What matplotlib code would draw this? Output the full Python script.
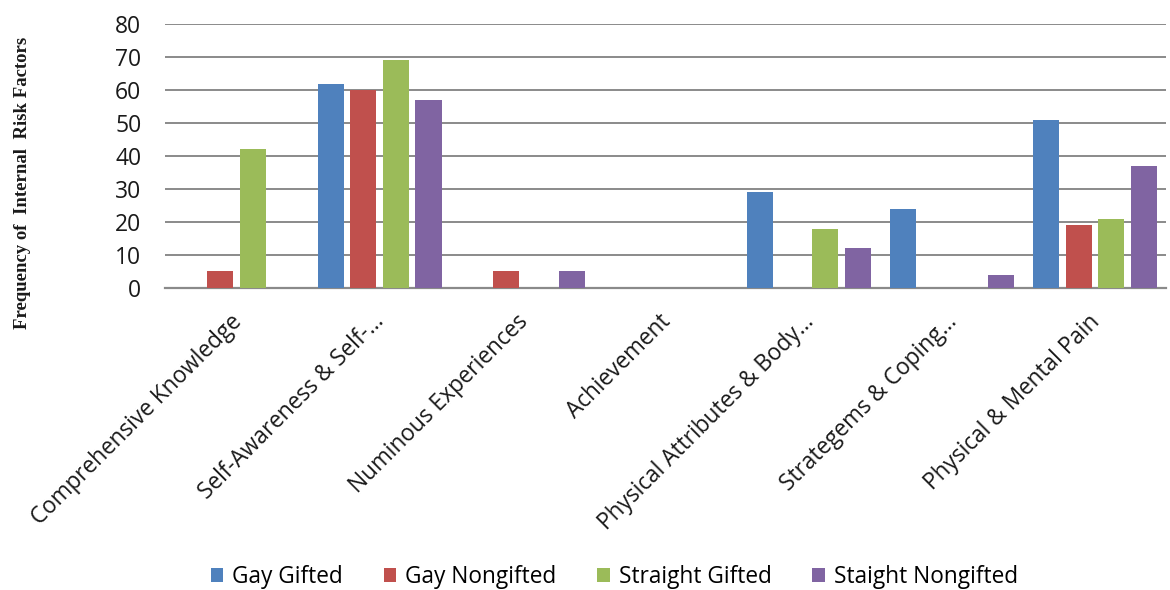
import matplotlib
matplotlib.use("Agg")
import matplotlib.pyplot as plt
import matplotlib.transforms as mtransforms
import numpy as np

categories = ["Comprehensive Knowledge", "Self-Awareness & Self-...", "Numinous Experiences",
              "Achievement", "Physical Attributes & Body...", "Strategems & Coping...",
              "Physical & Mental Pain"]
series_names = ["Gay Gifted", "Gay Nongifted", "Straight Gifted", "Staight Nongifted"]
gay_gifted = [0, 62, 0, 0, 29, 24, 51]
gay_nongifted = [5, 60, 5, 0, 0, 0, 19]
straight_gifted = [42, 69, 0, 0, 18, 0, 21]
straight_nongifted = [0, 57, 5, 0, 12, 4, 37]
colors = ["#4F81BD", "#C0504D", "#9BBB59", "#8064A2"]

plt.rcParams['font.family'] = ['Open Sans', 'DejaVu Sans']

fig = plt.figure(figsize=(11.7, 5.9), dpi=100)
ax = fig.add_axes([0.141, 0.512, 0.856, 0.447])

x = np.arange(len(categories))
step = 0.228
width = 0.182
datas = [gay_gifted, gay_nongifted, straight_gifted, straight_nongifted]
for i, (vals, c, name) in enumerate(zip(datas, colors, series_names)):
    ax.bar(x + (i - 1.5) * step, vals, width, color=c, label=name, zorder=3)

ax.set_xlim(-0.5, len(categories) - 0.5)
ax.set_ylim(0, 80)
ax.set_yticks(range(0, 81, 10))
ax.yaxis.grid(True, color="#8a8a8a", linewidth=1.4, zorder=0)
ax.set_axisbelow(True)
for s in ["left", "right", "top"]:
    ax.spines[s].set_visible(False)
ax.spines["bottom"].set_color("#8a8a8a")
ax.spines["bottom"].set_linewidth(1.6)
ax.tick_params(axis="both", length=0, labelsize=16.5, colors="#1a1a1a")
ax.tick_params(axis="y", pad=17)
ax.set_xticks(x)
ax.set_xticklabels(categories, rotation=45, ha="right", va="top",
                   rotation_mode="anchor", fontsize=16.3)
# nudge the slanted labels down and to the left a little
offset = mtransforms.ScaledTranslation(-0.07, -0.17, fig.dpi_scale_trans)
for lbl in ax.get_xticklabels():
    lbl.set_transform(lbl.get_transform() + offset)

fig.text(0.019, 0.69, "Frequency of  Internal  Risk Factors", rotation=90,
         ha="center", va="center", fontsize=13.5, fontweight="bold",
         family=["Liberation Serif", "DejaVu Serif"], color="#1a1a1a")

fig.legend(loc="center", bbox_to_anchor=(0.525, 0.022), ncol=4, frameon=False,
           fontsize=16.3, handlelength=0.55, handleheight=0.55, columnspacing=1.8,
           handletextpad=0.4)

fig.savefig("out.png", dpi=100)
